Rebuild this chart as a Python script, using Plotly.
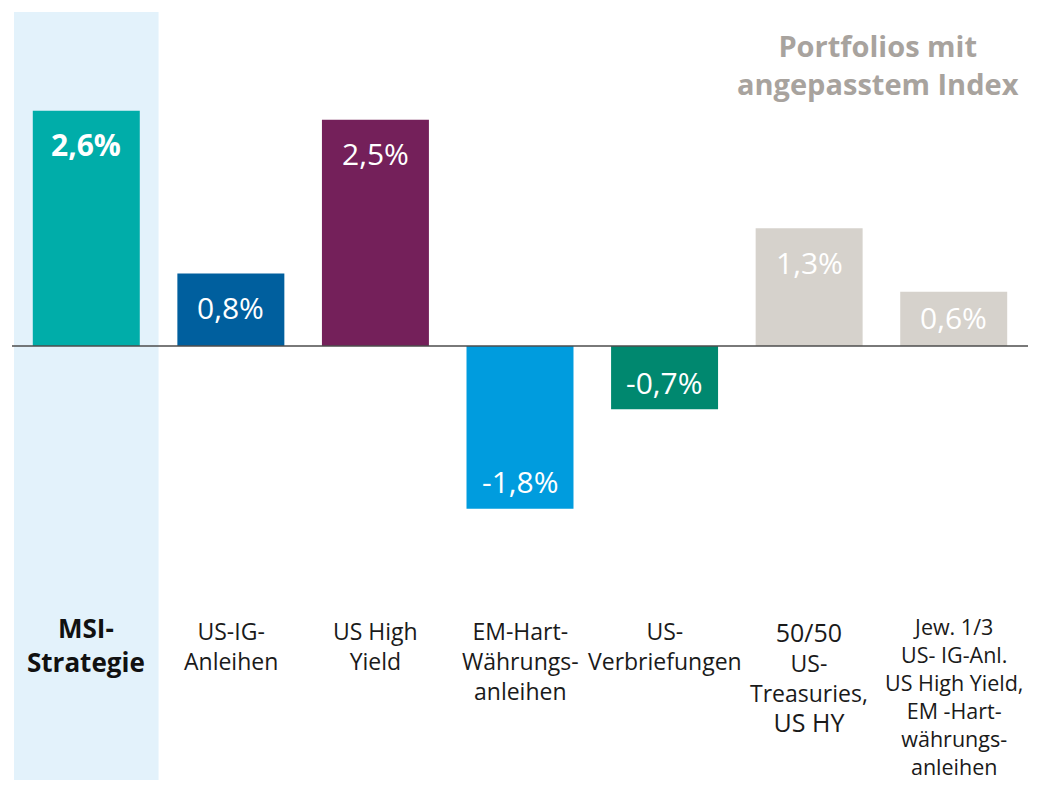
import plotly.graph_objects as go

# ---- data ----
categories = [
    "<b>MSI-<br>Strategie</b>",
    "US-IG-<br>Anleihen",
    "US High<br>Yield",
    "EM-Hart-<br>Währungs-<br>anleihen",
    "US-<br>Verbriefungen",
    "<span style='font-size:25px'>50/50</span><br>US-<br>Treasuries,<br><span style='font-size:25px'>US HY</span>",
    "Jew. 1/3<br>US- IG-Anl.<br>US High Yield,<br>EM -Hart-<br>währungs-<br>anleihen",
]
values = [2.6, 0.8, 2.5, -1.8, -0.7, 1.3, 0.6]
value_labels = ["2,6%", "0,8%", "2,5%", "-1,8%", "-0,7%", "1,3%", "0,6%"]
bar_colors = ["#00ADA9", "#005F9E", "#74205A", "#009CDE", "#00886F", "#D6D2CC", "#D6D2CC"]
title_text = "Portfolios mit<br>angepasstem Index"

FONT = "Open Sans"
x_idx = list(range(len(categories)))

fig = go.Figure()
fig.add_trace(go.Bar(
    x=x_idx, y=values, marker=dict(color=bar_colors, line=dict(width=0)),
    width=0.74, hoverinfo="skip", showlegend=False,
))

# highlight background for MSI strategy column
fig.add_shape(type="rect", xref="x", yref="paper", x0=-0.5, x1=0.5, y0=0, y1=1,
              fillcolor="#E3F2FB", line=dict(width=0), layer="below")
# zero line
fig.add_shape(type="line", xref="paper", yref="y", x0=-0.002, x1=1.002, y0=0, y1=0,
              line=dict(color="#4D4D4D", width=1.5), layer="above")

annotations = []
for i, (v, lab) in enumerate(zip(values, value_labels)):
    annotations.append(dict(
        x=i, y=v, xref="x", yref="y", text=("<b>%s</b>" % lab) if i == 0 else lab,
        showarrow=False, yanchor="middle", yshift=-34 if v > 0 else 27,
        font=dict(family=FONT, size=30, color="white"),
    ))
    if i == len(values) - 1:
        annotations[-1]["yshift"] = -26

for i, cat in enumerate(categories):
    if i == 0:
        size, top, color = 26, 0.2235, "#111111"
    elif i == len(categories) - 1:
        size, top, color = 21.5, 0.2215, "#1A1A1A"
    else:
        size, top, color = 23, 0.2175, "#1A1A1A"
    annotations.append(dict(
        x=i, y=top, xref="x", yref="paper", text=cat, showarrow=False,
        yanchor="top", xanchor="center",
        font=dict(family=FONT, size=size, color=color),
    ))

annotations.append(dict(
    x=0.854, y=0.984, xref="paper", yref="paper", text="<b>" + title_text + "</b>",
    showarrow=False, xanchor="center", yanchor="top",
    font=dict(family=FONT, size=29, color="#A8A39E"),
))

fig.update_layout(
    width=1030, height=777,
    margin=dict(l=6, r=12, t=4, b=5),
    paper_bgcolor="white", plot_bgcolor="white",
    xaxis=dict(range=[-0.5, 6.5], visible=False, fixedrange=True),
    yaxis=dict(range=[-4.796, 3.69], visible=False, fixedrange=True),
    bargap=0.26,
    annotations=annotations,
    font=dict(family=FONT),
)

fig.write_html("out.html", config={"displayModeBar": False})
